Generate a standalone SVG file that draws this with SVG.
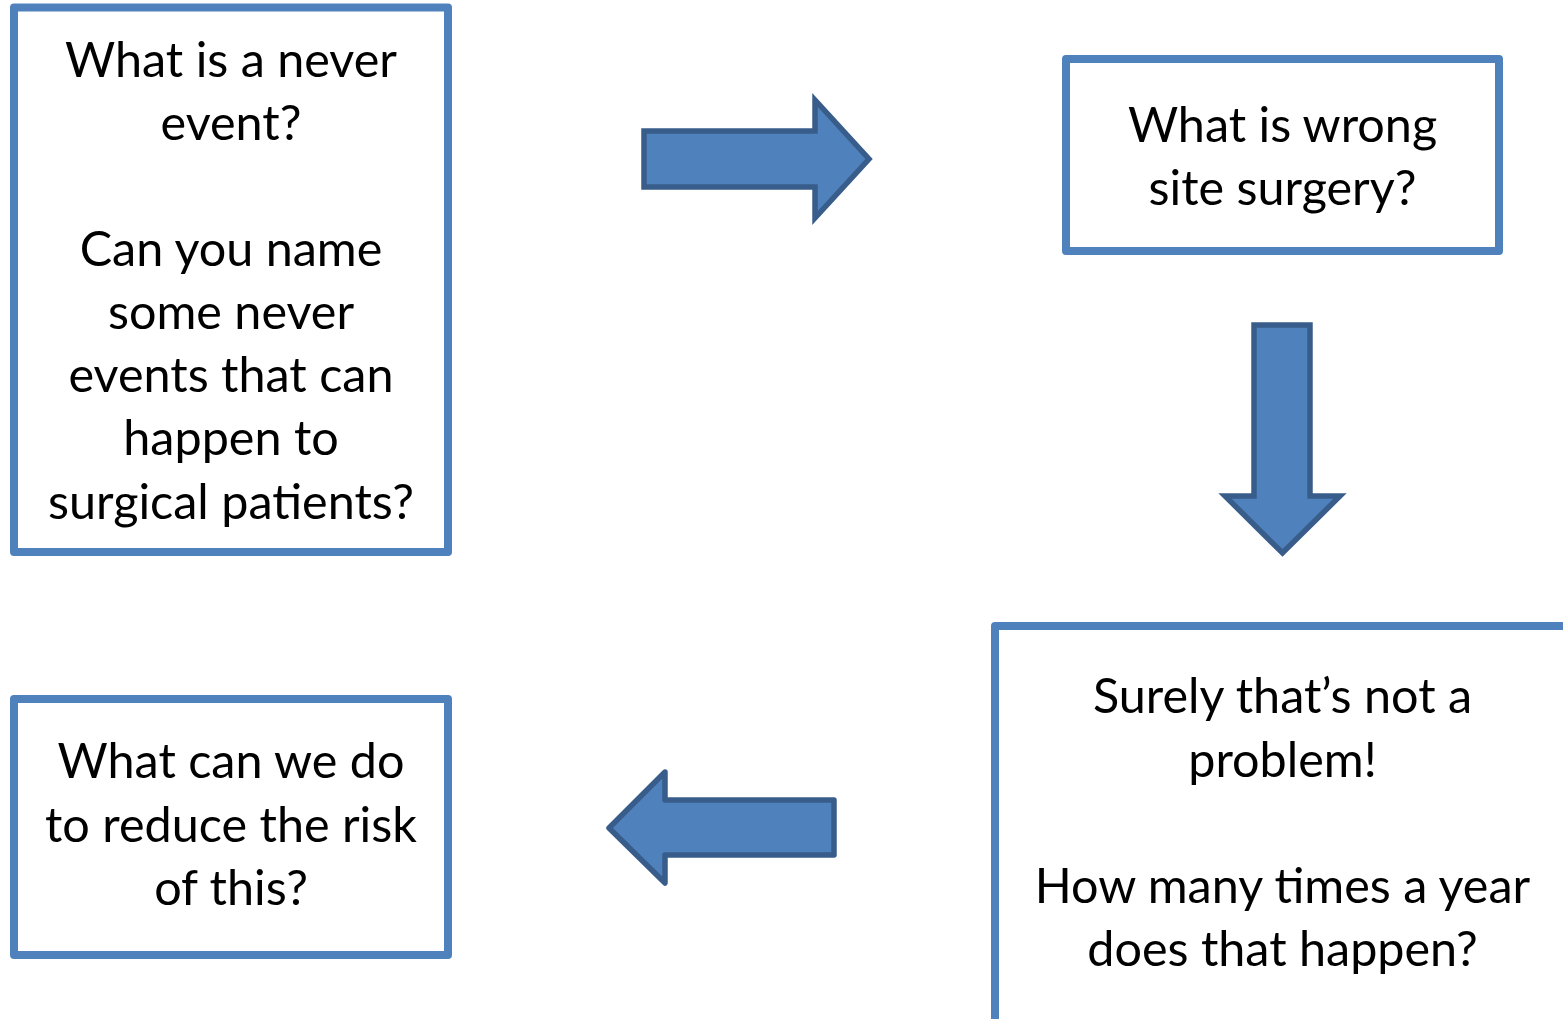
<svg xmlns="http://www.w3.org/2000/svg" width="1563" height="1019" viewBox="0 0 1563 1019">
<style>
.box{fill:#FFFFFF;stroke:#4F81BD;stroke-width:8;stroke-linejoin:round}
.arrow{fill:#4F81BD;stroke:#385D8A;stroke-width:5.5;stroke-linejoin:miter}
.t{font-family:"Lato","Liberation Sans",sans-serif;font-size:48.5px;fill:#000000;text-anchor:middle}
</style>
<rect x="0" y="0" width="1563" height="1019" fill="#FFFFFF"/>
<g id="node-never-event">
<rect class="box" x="14" y="7.5" width="434" height="544.5"/>
<text class="t" x="231" y="77">What is a never</text>
<text class="t" x="231" y="140">event?</text>
<text class="t" x="231" y="266">Can you name</text>
<text class="t" x="231" y="329">some never</text>
<text class="t" x="231" y="392">events that can</text>
<text class="t" x="231" y="455">happen to</text>
<text class="t" x="231" y="519">surgical patients?</text>
</g>
<g id="node-wrong-site">
<rect class="box" x="1066" y="59" width="433" height="192"/>
<text class="t" x="1282.5" y="142">What is wrong</text>
<text class="t" x="1282.5" y="205">site surgery?</text>
</g>
<g id="node-problem">
<rect class="box" x="995" y="626" width="575" height="400"/>
<text class="t" x="1282.5" y="713">Surely that’s not a</text>
<text class="t" x="1282.5" y="777">problem!</text>
<text class="t" x="1282.5" y="903">How many times a year</text>
<text class="t" x="1282.5" y="966">does that happen?</text>
</g>
<g id="node-reduce-risk">
<rect class="box" x="14" y="699" width="434" height="256"/>
<text class="t" x="231" y="778">What can we do</text>
<text class="t" x="231" y="842">to reduce the risk</text>
<text class="t" x="231" y="905">of this?</text>
</g>
<g id="connectors">
<path class="arrow" d="M644,131 L815,131 L815,100 L869,159 L815,218 L815,187 L644,187 Z"/>
<path class="arrow" d="M1254,325 L1310,325 L1310,496 L1340,496 L1282.5,553 L1225,496 L1254,496 Z"/>
<path class="arrow" style="stroke-linejoin:round" d="M834,800 L665,800 L665,772 L609,828 L665,883 L665,855 L834,855 Z"/>
</g>
</svg>
